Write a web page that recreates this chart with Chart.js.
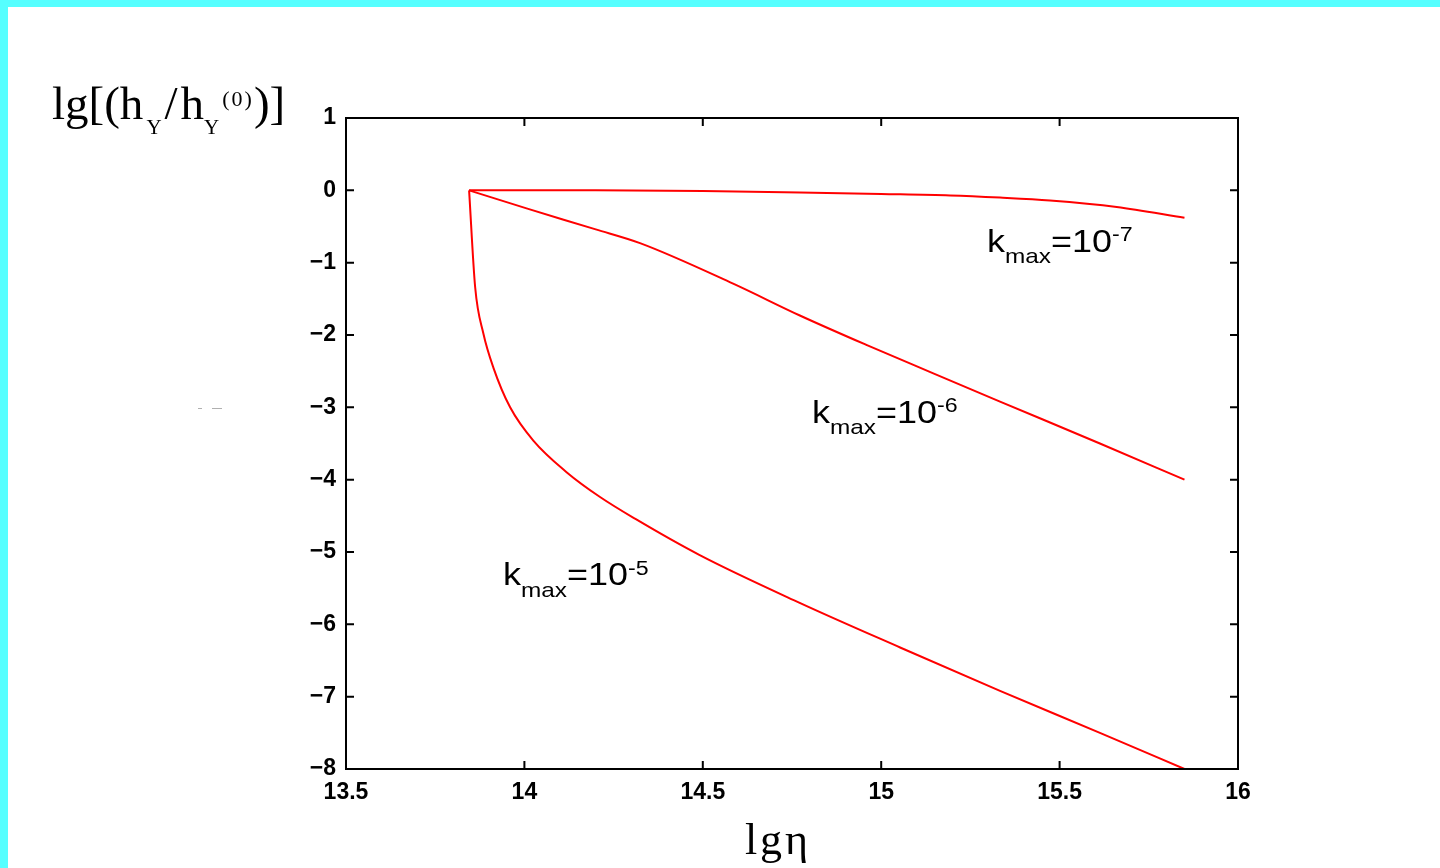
<!DOCTYPE html>
<html>
<head>
<meta charset="utf-8">
<script src="https://cdn.jsdelivr.net/npm/chart.js@4.4.1/dist/chart.umd.min.js"></script>
<style>
  html, body { margin:0; padding:0; background:#ffffff; }
  #wrap { position:relative; width:1440px; height:868px; overflow:hidden; background:#fff; }
  #c { position:absolute; left:0; top:0; }
  #frame { position:absolute; left:0; top:0; width:1440px; height:868px; box-sizing:border-box;
           border-top:7px solid #55ffff; border-left:8px solid #55ffff; pointer-events:none; }
  .serif { position:absolute; font-family:'Liberation Serif','DejaVu Serif','Times New Roman',serif; color:#000; line-height:1; white-space:nowrap; }
  .sans  { position:absolute; font-family:'Liberation Sans',Arial,Helvetica,sans-serif; color:#000; line-height:1; white-space:nowrap; transform-origin:0 0; }
  .rel { position:relative; line-height:1; }
  .mark { position:absolute; height:1px; background:#b0b0b0; }
</style>
</head>
<body>
<div id="wrap">
  <canvas id="c" width="1440" height="868"></canvas>

  <div class="serif" id="ytitle" style="left:52px; top:80px; font-size:47px;">lg[(h<span class="rel" style="font-size:21px; top:15px; margin-left:3px; letter-spacing:3px;">Y</span><span style="letter-spacing:3px;">/</span>h<span class="rel" style="font-size:21px; top:15px; letter-spacing:3px;">Y</span><span class="rel" style="font-size:22px; top:-13px; letter-spacing:2px;">(0)</span>)]</div>

  <div class="serif" id="xtitle" style="left:678px; width:200px; text-align:center; top:818px; font-size:44px; letter-spacing:3px;">lgη</div>

  <div class="sans" style="left:987px; top:226px; font-size:31px; transform:scaleX(1.16);">k<span class="rel" style="font-size:21px; top:11px;">max</span>=10<span class="rel" style="font-size:20px; top:-11px;">-7</span></div>
  <div class="sans" style="left:812px; top:397px; font-size:31px; transform:scaleX(1.16);">k<span class="rel" style="font-size:21px; top:11px;">max</span>=10<span class="rel" style="font-size:20px; top:-11px;">-6</span></div>
  <div class="sans" style="left:503px; top:559px; font-size:31px; transform:scaleX(1.16);">k<span class="rel" style="font-size:21px; top:12px;">max</span>=10<span class="rel" style="font-size:20px; top:-10px;">-5</span></div>

  <div class="mark" style="left:198px; top:408px; width:4px;"></div>
  <div class="mark" style="left:212px; top:408px; width:10px;"></div>

  <div id="frame"></div>
</div>

<script>
// ---- data ----
const xTicks = [13.5, 14, 14.5, 15, 15.5, 16];
const yTicks = [1, 0, -1, -2, -3, -4, -5, -6, -7, -8];

const kLabels = ['k_max=10^-7', 'k_max=10^-6', 'k_max=10^-5'];

const x7 = [13.845, 14.2, 14.5, 14.772, 15.0, 15.193, 15.333, 15.473, 15.66, 15.85];
const y7 = [0, 0, -0.01, -0.03, -0.05, -0.07, -0.10, -0.14, -0.23, -0.38];

const x6 = [13.845, 14.006, 14.2, 14.324, 14.585, 14.772, 14.96, 15.146, 15.333, 15.613, 15.85];
const y6 = [0, -0.25, -0.54, -0.73, -1.29, -1.73, -2.14, -2.53, -2.92, -3.50, -4.0];

const x5 = [13.845, 13.862, 13.885, 13.913, 13.96, 14.025, 14.119, 14.212, 14.31, 14.49, 14.77, 15.053, 15.333, 15.613, 15.85];
const y5 = [0, -1.34, -1.98, -2.45, -3.0, -3.46, -3.90, -4.24, -4.54, -5.04, -5.70, -6.32, -6.92, -7.50, -8.0];

function pts(xs, ys) { return xs.map((x, i) => ({ x: x, y: ys[i] })); }

const frameTicks = {
  id: 'frameTicks',
  afterDatasetsDraw(chart) {
    const { ctx, chartArea: { left, right, top, bottom }, scales: { x, y } } = chart;
    ctx.save();
    ctx.strokeStyle = '#000';
    ctx.lineWidth = 2;
    ctx.strokeRect(left, top, right - left, bottom - top);
    ctx.beginPath();
    x.ticks.forEach(t => {
      const px = x.getPixelForValue(t.value);
      ctx.moveTo(px, bottom); ctx.lineTo(px, bottom - 8);
      ctx.moveTo(px, top); ctx.lineTo(px, top + 8);
    });
    y.ticks.forEach(t => {
      const py = y.getPixelForValue(t.value);
      ctx.moveTo(left, py); ctx.lineTo(left + 8, py);
      ctx.moveTo(right, py); ctx.lineTo(right - 8, py);
    });
    ctx.stroke();
    ctx.restore();
  }
};

const lineStyle = { borderColor: '#ff0000', borderWidth: 2, pointRadius: 0, fill: false, cubicInterpolationMode: 'monotone' };

new Chart(document.getElementById('c'), {
  type: 'line',
  data: {
    datasets: [
      Object.assign({ label: kLabels[0], data: pts(x7, y7) }, lineStyle),
      Object.assign({ label: kLabels[1], data: pts(x6, y6) }, lineStyle),
      Object.assign({ label: kLabels[2], data: pts(x5, y5) }, lineStyle)
    ]
  },
  options: {
    responsive: false,
    animation: false,
    events: [],
    layout: { padding: { left: 0, top: 118, right: 202, bottom: 0 } },
    plugins: { legend: { display: false }, tooltip: { enabled: false } },
    scales: {
      x: {
        type: 'linear', min: 13.5, max: 16,
        grid: { display: false, drawTicks: false },
        border: { display: false },
        afterBuildTicks(scale) { scale.ticks = xTicks.map(v => ({ value: v })); },
        afterFit(scale) { scale.height = 99; },
        ticks: {
          padding: 10, color: '#000', maxRotation: 0,
          font: { family: "'Liberation Sans', Arial, sans-serif", size: 23, weight: 'bold' },
          callback: v => String(v)
        }
      },
      y: {
        type: 'linear', min: -8, max: 1,
        grid: { display: false, drawTicks: false },
        border: { display: false },
        afterBuildTicks(scale) { scale.ticks = yTicks.map(v => ({ value: v })); },
        afterFit(scale) { scale.width = 346; },
        ticks: {
          padding: 10, color: '#000',
          font: { family: "'Liberation Sans', Arial, sans-serif", size: 23, weight: 'bold' },
          callback: v => (v < 0 ? '\u2212' + Math.abs(v) : String(v))
        }
      }
    }
  },
  plugins: [frameTicks]
});
</script>
</body>
</html>
